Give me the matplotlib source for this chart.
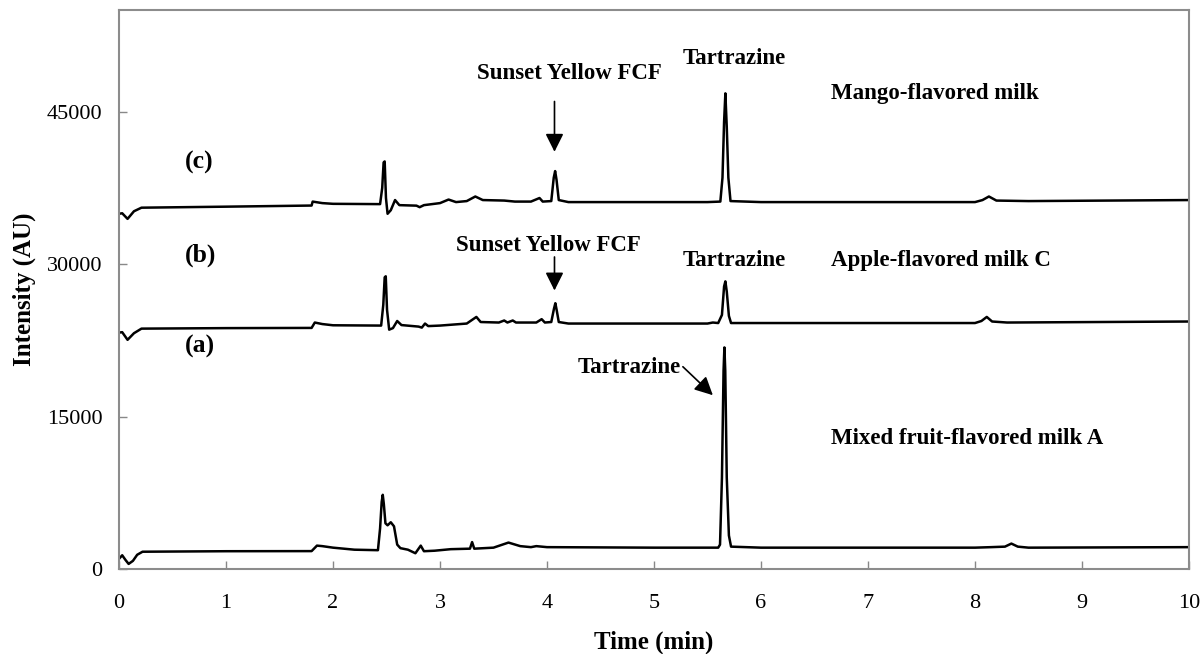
import matplotlib
matplotlib.use("Agg")
import matplotlib.pyplot as plt

# ---- data ----
t_a = [0, 0.03, 0.06, 0.09, 0.13, 0.17, 0.22, 1.0, 1.8, 1.85, 1.9, 2.0, 2.2, 2.42,
       2.44, 2.455, 2.465, 2.475, 2.49, 2.51, 2.54, 2.57, 2.6, 2.63, 2.7, 2.77, 2.82,
       2.85, 2.95, 3.1, 3.28, 3.3, 3.32, 3.5, 3.64, 3.75, 3.85, 3.9, 4.0, 5.0, 5.6,
       5.617, 5.635, 5.65, 5.658, 5.666, 5.68, 5.70, 5.72, 6.0, 7.0, 8.0, 8.15, 8.28,
       8.34, 8.4, 8.5, 10.0]
y_a = [1000, 1350, 900, 500, 800, 1400, 1700, 1750, 1760, 2300, 2250, 2100, 1900, 1850,
       4000, 6600, 7300, 6400, 4500, 4300, 4600, 4200, 2400, 2050, 1900, 1550, 2300,
       1750, 1800, 1950, 2000, 2650, 2000, 2100, 2600, 2250, 2150, 2250, 2150, 2100, 2100,
       2400, 9000, 19500, 21800, 19500, 9000, 3300, 2200, 2100, 2100, 2100, 2150, 2200,
       2500, 2200, 2100, 2150]

t_b = [0, 0.03, 0.08, 0.14, 0.21, 1.0, 1.8, 1.83, 1.9, 2.0, 2.45, 2.47, 2.483, 2.493,
       2.505, 2.525, 2.56, 2.6, 2.64, 2.8, 2.83, 2.86, 2.89, 3.0, 3.25, 3.34, 3.38,
       3.55, 3.6, 3.63, 3.68, 3.71, 3.9, 3.95, 3.98, 4.04, 4.065, 4.078, 4.09, 4.11,
       4.2, 5.5, 5.55, 5.6, 5.635, 5.655, 5.667, 5.68, 5.70, 5.72, 6.0, 8.0, 8.06,
       8.11, 8.16, 8.3, 10.0]
y_b = [23260, 23300, 22550, 23200, 23650, 23700, 23720, 24250, 24100, 23980, 23950,
       26000, 28700, 28800, 25500, 23550, 23700, 24400, 24000, 23850, 23750, 24150,
       23900, 23950, 24150, 24800, 24300, 24250, 24450, 24250, 24450, 24250, 24250,
       24580, 24250, 24300, 25600, 26150, 25500, 24300, 24150, 24150, 24250, 24200,
       25000, 27800, 28300, 27300, 24900, 24200, 24200, 24200, 24400, 24800, 24350,
       24250, 24350]

t_c = [0, 0.03, 0.08, 0.14, 0.21, 1.0, 1.8, 1.81, 1.9, 2.0, 2.44, 2.46, 2.473, 2.483,
       2.495, 2.51, 2.54, 2.58, 2.62, 2.78, 2.81, 2.85, 3.0, 3.08, 3.15, 3.25, 3.33,
       3.4, 3.6, 3.7, 3.85, 3.93, 3.96, 4.04, 4.063, 4.076, 4.089, 4.11, 4.2, 5.5,
       5.62, 5.64, 5.655, 5.667, 5.68, 5.695, 5.715, 6.0, 8.0, 8.07, 8.13, 8.2, 8.5,
       10.0]
y_c = [34950, 35000, 34450, 35200, 35550, 35650, 35760, 36150, 36000, 35930, 35900,
       37500, 40000, 40100, 36500, 34950, 35300, 36300, 35800, 35750, 35600, 35800,
       36000, 36350, 36100, 36200, 36650, 36300, 36250, 36150, 36150, 36500, 36150,
       36200, 38500, 39150, 38300, 36300, 36100, 36100, 36150, 38500, 44000, 46800,
       43500, 38500, 36200, 36100, 36100, 36300, 36650, 36250, 36200, 36300]

x_ticks = [0, 1, 2, 3, 4, 5, 6, 7, 8, 9, 10]
y_ticks = [0, 15000, 30000, 45000]

plt.rcParams['font.family'] = ['Liberation Serif', 'DejaVu Serif']

fig = plt.figure(figsize=(12.02, 6.54), dpi=100)
ax = fig.add_axes([119 / 1202, 85 / 654, (1189 - 119) / 1202, (569 - 10) / 654])

for t, y in ((t_a, y_a), (t_b, y_b), (t_c, y_c)):
    ax.plot(t, y, color='black', lw=1.8, solid_joinstyle='round')

ax.set_xlim(0, 10)
ax.set_ylim(0, 55000)
ax.set_xticks(x_ticks)
ax.set_yticks(y_ticks)
ax.set_xticklabels([str(v) for v in x_ticks])
ax.set_yticklabels([str(v) for v in y_ticks])
ax.tick_params(direction='in', length=6, width=1, color='#888888', labelsize=16,
               labelcolor='black')
ax.tick_params(axis='x', pad=18)
ax.tick_params(axis='y', pad=12)
for s in ax.spines.values():
    s.set_color('#8c8c8c')
    s.set_linewidth(1.5)

ax.set_xlabel('Time (min)', fontsize=18, fontweight='bold', labelpad=13)
ax.set_ylabel('Intensity (AU)', fontsize=18, fontweight='bold', labelpad=8)

bold = dict(fontsize=16.5, fontweight='bold', color='black')
lab = dict(fontsize=18.5, fontweight='bold', color='black')
ax.text(0.62, 40000, '(c)', ha='left', va='center', **lab)
ax.text(0.62, 30900, '(b)', ha='left', va='center', **lab)
ax.text(0.62, 21900, '(a)', ha='left', va='center', **lab)

ax.text(4.205, 48800, 'Sunset Yellow FCF', ha='center', va='center', **bold)
ax.text(5.75, 50200, 'Tartrazine', ha='center', va='center', **bold)
ax.text(6.65, 46800, 'Mango-flavored milk', ha='left', va='center', **bold)

ax.text(4.01, 31800, 'Sunset Yellow FCF', ha='center', va='center', **bold)
ax.text(5.75, 30400, 'Tartrazine', ha='center', va='center', **bold)
ax.text(6.65, 30400, 'Apple-flavored milk C', ha='left', va='center', **bold)

ax.text(6.65, 12800, 'Mixed fruit-flavored milk A', ha='left', va='center', **bold)
ax.text(4.77, 19800, 'Tartrazine', ha='center', va='center', **bold)

arrow = dict(arrowstyle='-|>,head_length=1.1,head_width=0.55', color='black', lw=1.2,
             shrinkA=0, shrinkB=0)
ax.annotate('', xy=(4.07, 41050), xytext=(4.07, 46000), arrowprops=arrow)
ax.annotate('', xy=(4.07, 27400), xytext=(4.07, 30700), arrowprops=arrow)
ax.annotate('', xy=(5.55, 17100), xytext=(5.27, 19900), arrowprops=arrow)

fig.savefig('out.png', dpi=100)
